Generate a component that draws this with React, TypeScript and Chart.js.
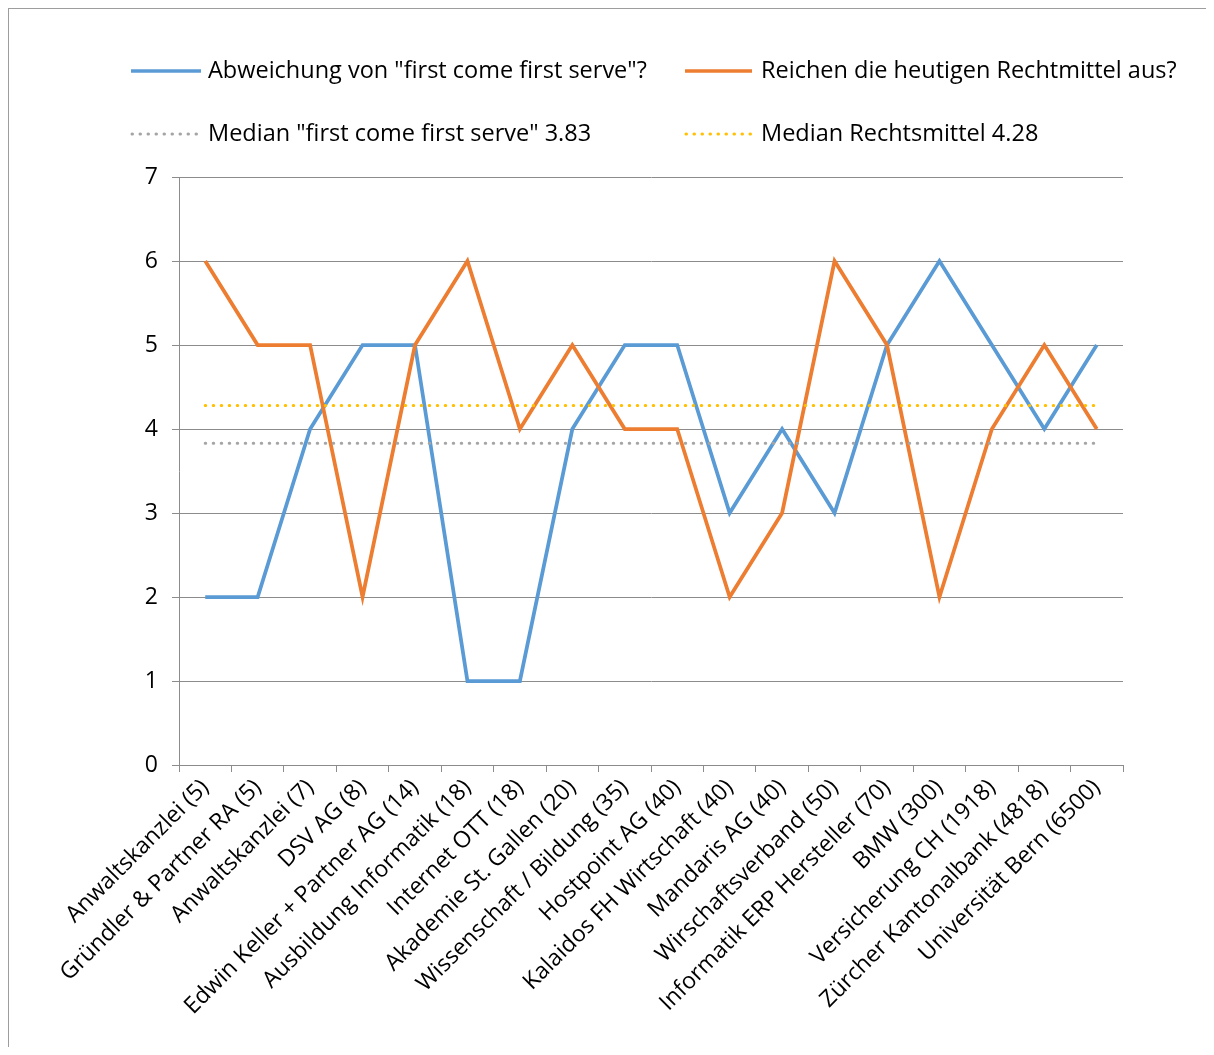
import React, { useEffect, useRef } from "react";
import { Chart, registerables } from "chart.js";

Chart.register(...registerables);

const categories: string[] = [
  "Anwaltskanzlei (5)",
  "Gründler & Partner RA (5)",
  "Anwaltskanzlei (7)",
  "DSV AG (8)",
  "Edwin Keller + Partner AG (14)",
  "Ausbildung Informatik (18)",
  "Internet OTT (18)",
  "Akademie St. Gallen (20)",
  "Wissenschaft / Bildung (35)",
  "Hostpoint AG (40)",
  "Kalaidos FH Wirtschaft (40)",
  "Mandaris AG (40)",
  "Wirschaftsverband (50)",
  "Informatik ERP Hersteller (70)",
  "BMW (300)",
  "Versicherung CH (1918)",
  "Zürcher Kantonalbank (4818)",
  "Universität Bern (6500)",
];

const abweichung: number[] = [2, 2, 4, 5, 5, 1, 1, 4, 5, 5, 3, 4, 3, 5, 6, 5, 4, 5];
const rechtmittel: number[] = [6, 5, 5, 2, 5, 6, 4, 5, 4, 4, 2, 3, 6, 5, 2, 4, 5, 4];
const medianFcfs = 3.83;
const medianRecht = 4.28;

const seriesNames: string[] = [
  'Abweichung von "first come first serve"?',
  "Reichen die heutigen Rechtmittel aus?",
  'Median "first come first serve" 3.83',
  "Median Rechtsmittel 4.28",
];

const yTicks: number[] = [0, 1, 2, 3, 4, 5, 6, 7];

const FONT = "'Open Sans', Lato, sans-serif";
const BLUE = "#5B9BD5";
const ORANGE = "#ED7D31";
const GRAY = "#A5A5A5";
const GOLD = "#FFC000";
const GRID = "#8C8C8C";
const DOTS = [0.5, 7.5];

const legendPlugin = {
  id: "customLegend",
  afterDraw(chart: any) {
    const ctx = chart.ctx as CanvasRenderingContext2D;
    const items = [
      { x1: 122, x2: 192, tx: 199, y: 62, color: BLUE, dash: [] as number[], w: 3.5, cap: "butt" },
      { x1: 676, x2: 743, tx: 752, y: 62, color: ORANGE, dash: [] as number[], w: 3.5, cap: "butt" },
      { x1: 123, x2: 192, tx: 199, y: 125, color: GRAY, dash: DOTS, w: 3, cap: "round" },
      { x1: 677, x2: 743, tx: 752, y: 125, color: GOLD, dash: DOTS, w: 3, cap: "round" },
    ];
    ctx.save();
    items.forEach((it, i) => {
      ctx.beginPath();
      ctx.strokeStyle = it.color;
      ctx.lineWidth = it.w;
      ctx.lineCap = it.cap as CanvasLineCap;
      ctx.setLineDash(it.dash);
      ctx.moveTo(it.x1, it.y);
      ctx.lineTo(it.x2, it.y);
      ctx.stroke();
      ctx.setLineDash([]);
      ctx.fillStyle = "#000";
      ctx.font = `23.5px ${FONT}`;
      ctx.textBaseline = "middle";
      ctx.textAlign = "left";
      ctx.fillText(seriesNames[i], it.tx, it.y);
    });
    ctx.restore();
  },
};

export default function App() {
  const ref = useRef<HTMLCanvasElement | null>(null);

  useEffect(() => {
    if (!ref.current) return;
    const chart = new Chart(ref.current, {
      type: "line",
      data: {
        labels: categories,
        datasets: [
          {
            label: seriesNames[0],
            data: abweichung,
            borderColor: BLUE,
            backgroundColor: BLUE,
            borderWidth: 3.75,
            pointRadius: 0,
            tension: 0,
            order: 4,
          },
          {
            label: seriesNames[1],
            data: rechtmittel,
            borderColor: ORANGE,
            backgroundColor: ORANGE,
            borderWidth: 3.75,
            pointRadius: 0,
            tension: 0,
            order: 3,
          },
          {
            label: seriesNames[2],
            data: categories.map(() => medianFcfs),
            borderColor: GRAY,
            backgroundColor: GRAY,
            borderWidth: 3,
            borderDash: DOTS,
            borderCapStyle: "round",
            pointRadius: 0,
            order: 2,
          },
          {
            label: seriesNames[3],
            data: categories.map(() => medianRecht),
            borderColor: GOLD,
            backgroundColor: GOLD,
            borderWidth: 3,
            borderDash: DOTS,
            borderCapStyle: "round",
            pointRadius: 0,
            order: 1,
          },
        ],
      },
      options: {
        animation: false,
        responsive: true,
        maintainAspectRatio: false,
        layout: { padding: { left: 0, right: 83, top: 168, bottom: 0 } },
        plugins: {
          legend: { display: false },
          tooltip: { enabled: false },
        },
        scales: {
          x: {
            type: "category",
            offset: true,
            grid: {
              offset: true,
              drawOnChartArea: false,
              drawTicks: true,
              tickLength: 7,
              color: GRID,
            },
            border: { color: GRID, width: 1 },
            ticks: {
              color: "#000",
              font: { family: FONT, size: 23 },
              maxRotation: 45,
              minRotation: 45,
              autoSkip: false,
              padding: 2,
            },
            afterFit: (scale: any) => {
              scale.height = 282;
            },
          },
          y: {
            min: 0,
            max: 7,
            afterBuildTicks: (scale: any) => {
              scale.ticks = yTicks.map((v) => ({ value: v }));
            },
            grid: {
              color: GRID,
              tickLength: 7,
              lineWidth: 1,
            },
            border: { color: GRID, width: 1 },
            ticks: {
              color: "#000",
              font: { family: FONT, size: 23 },
              padding: 14,
            },
            afterFit: (scale: any) => {
              scale.width = 170;
            },
          },
        },
      },
      plugins: [legendPlugin],
    });
    return () => chart.destroy();
  }, []);

  return (
    <div
      style={{
        width: 1206,
        height: 1047,
        marginBottom: -8,
        boxSizing: "border-box",
        borderTop: "1px solid #9d9d9d",
        borderLeft: "1px solid #9d9d9d",
        background: "#fff",
      }}
    >
      <div style={{ position: "relative", width: 1197, height: 1038 }}>
        <canvas ref={ref} />
      </div>
    </div>
  );
}
